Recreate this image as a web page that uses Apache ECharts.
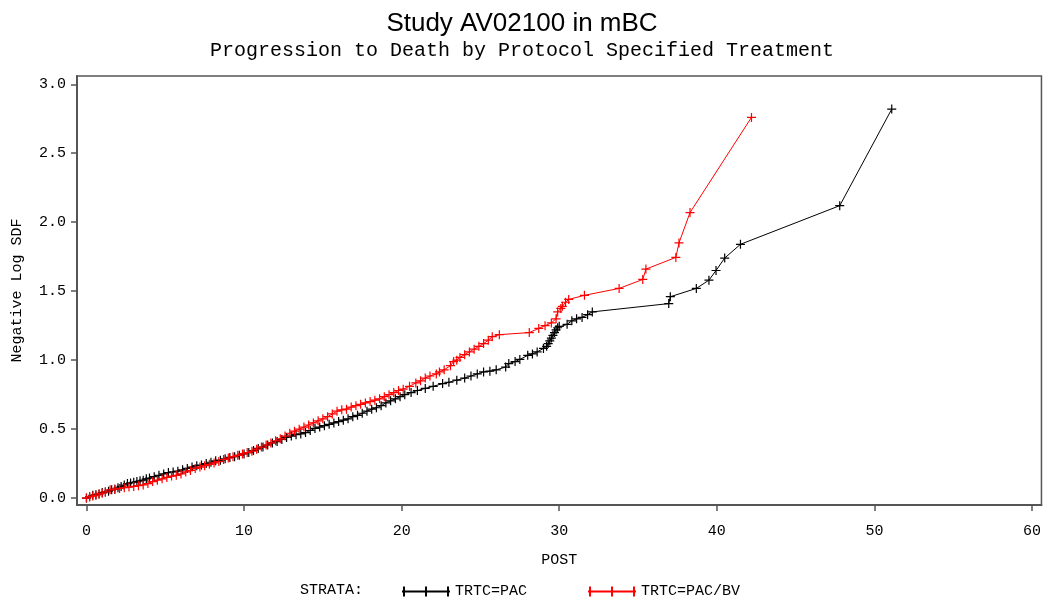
<!DOCTYPE html>
<html>
<head>
<meta charset="utf-8">
<script src="https://cdn.jsdelivr.net/npm/echarts@6.0.0/dist/echarts.min.js"></script>
<style>
    html, body { margin: 0; padding: 0; background: #fff; }
    #chart { width: 1044px; height: 600px; }
</style>
</head>
<body>
<div id="chart"></div>
<script>
// TRTC=PAC
var pacTime = [0, 0.2, 0.4, 0.6, 0.8, 1.0, 1.2, 1.4, 1.6, 1.8, 2.0, 2.2, 2.4, 2.6, 2.8, 3.0, 3.2, 3.4, 3.6, 3.8,
    4.0, 4.3, 4.6, 4.9, 5.2, 5.5, 5.8, 6.1, 6.4, 6.7, 7.0, 7.3, 7.6, 7.9, 8.2, 8.5, 8.8, 9.1, 9.4, 9.7,
    10.0, 10.3, 10.6, 10.9, 11.2, 11.5, 11.8, 12.1, 12.4, 12.7, 13.0, 13.3, 13.6, 13.9, 14.2, 14.5, 14.8,
    15.1, 15.4, 15.7, 16.0, 16.3, 16.6, 16.9, 17.2, 17.5, 17.8, 18.1, 18.4, 18.7, 19.0, 19.3, 19.6, 19.9,
    20.2, 20.6, 21.0, 21.5, 22.0, 22.6, 23.0, 23.5, 24.0, 24.4, 24.8, 25.2, 25.6, 26.0, 26.6, 26.8, 27.2,
    27.5, 28.0, 28.3, 28.6, 29.0, 29.2, 29.3, 29.4, 29.5, 29.6, 29.7, 29.8, 29.9, 30.0, 30.5, 30.8, 31.1,
    31.45, 31.8, 32.1, 36.95, 37.05, 38.7, 39.5, 39.95, 40.5, 41.5, 47.8, 51.1];
var pacLogSdf = [0, 0.01, 0.02, 0.025, 0.03, 0.04, 0.045, 0.05, 0.06, 0.065, 0.075, 0.085, 0.095, 0.105, 0.11, 0.115, 0.12, 0.125, 0.13, 0.14,
    0.145, 0.155, 0.165, 0.175, 0.185, 0.19, 0.195, 0.205, 0.215, 0.225, 0.235, 0.24, 0.25, 0.26, 0.27, 0.275, 0.285, 0.295, 0.30, 0.31,
    0.32, 0.33, 0.345, 0.36, 0.37, 0.385, 0.40, 0.41, 0.425, 0.44, 0.45, 0.46, 0.465, 0.475, 0.49, 0.505, 0.515,
    0.525, 0.535, 0.545, 0.555, 0.565, 0.575, 0.59, 0.60, 0.615, 0.63, 0.645, 0.655, 0.67, 0.69, 0.705, 0.72, 0.735,
    0.75, 0.765, 0.78, 0.795, 0.81, 0.83, 0.84, 0.855, 0.87, 0.885, 0.90, 0.915, 0.92, 0.93, 0.95, 0.975, 0.99,
    1.005, 1.035, 1.045, 1.06, 1.085, 1.10, 1.12, 1.14, 1.16, 1.18, 1.20, 1.22, 1.235, 1.245, 1.26, 1.285, 1.30,
    1.31, 1.33, 1.35, 1.41, 1.46, 1.52, 1.58, 1.65, 1.74, 1.84, 2.12, 2.82];

// TRTC=PAC/BV
var bvTime = [0, 0.2, 0.4, 0.6, 0.8, 1.0, 1.2, 1.5, 1.8, 2.1, 2.4, 2.7, 3.0, 3.3, 3.6, 3.9, 4.2, 4.5, 4.8, 5.1,
    5.4, 5.7, 6.0, 6.3, 6.6, 6.9, 7.2, 7.5, 7.8, 8.1, 8.4, 8.7, 9.0, 9.3, 9.6, 9.9, 10.2, 10.5, 10.8, 11.1,
    11.4, 11.7, 12.0, 12.3, 12.6, 12.9, 13.2, 13.5, 13.8, 14.1, 14.4, 14.7, 15.0, 15.3, 15.6, 15.9, 16.2,
    16.5, 16.8, 17.1, 17.4, 17.7, 18.0, 18.3, 18.6, 18.9, 19.2, 19.5, 19.8, 20.1, 20.5, 20.9, 21.2, 21.5,
    21.8, 22.2, 22.4, 22.7, 23.1, 23.3, 23.5, 23.7, 24.0, 24.3, 24.6, 24.9, 25.2, 25.5, 25.75, 26.2, 28.1,
    28.7, 29.1, 29.5, 29.8, 29.9, 30.1, 30.2, 30.4, 30.6, 31.6, 33.8, 35.3, 35.5, 37.4, 37.6, 38.3, 42.2];
var bvLogSdf = [0, 0.01, 0.015, 0.02, 0.03, 0.035, 0.045, 0.06, 0.065, 0.07, 0.075, 0.08, 0.085, 0.09, 0.095, 0.105, 0.12, 0.13, 0.14, 0.15,
    0.16, 0.165, 0.175, 0.19, 0.20, 0.215, 0.225, 0.235, 0.245, 0.255, 0.265, 0.28, 0.29, 0.30, 0.31, 0.32, 0.33, 0.34, 0.355, 0.37,
    0.385, 0.40, 0.415, 0.43, 0.45, 0.47, 0.485, 0.50, 0.515, 0.53, 0.545, 0.56, 0.575, 0.59, 0.61, 0.63, 0.64,
    0.645, 0.66, 0.67, 0.68, 0.69, 0.70, 0.71, 0.72, 0.735, 0.75, 0.765, 0.78, 0.79, 0.81, 0.835, 0.85, 0.87,
    0.885, 0.90, 0.915, 0.93, 0.96, 0.99, 1.00, 1.02, 1.04, 1.06, 1.08, 1.10, 1.12, 1.145, 1.17, 1.185, 1.20,
    1.23, 1.25, 1.27, 1.30, 1.35, 1.375, 1.39, 1.42, 1.44, 1.47, 1.52, 1.585, 1.66, 1.745, 1.85, 2.07, 2.76];

var xTicks = [0, 10, 20, 30, 40, 50, 60];
var yTicks = [0, 0.5, 1.0, 1.5, 2.0, 2.5, 3.0];

function zip(xs, ys) {
    var out = [];
    for (var i = 0; i < xs.length; i++) {
        out.push([xs[i], ys[i]]);
    }
    return out;
}

var plus = 'path://M0,5L10,5M5,0L5,10';
var legendIcon = 'path://M0,5L48,5M2,0L2,10M24,0L24,10M46,0L46,10';
var mono = 'Liberation Mono';
var axisColor = '#555';

var myChart = echarts.init(document.getElementById('chart'));
var option = {
    animation: false,
    backgroundColor: '#fff',
    title: {
        text: 'Study AV02100 in mBC',
        subtext: 'Progression to Death by Protocol Specified Treatment',
        left: 'center',
        top: 6,
        itemGap: 4,
        textStyle: { fontFamily: 'Liberation Sans', fontSize: 26, fontWeight: 'normal', color: '#000' },
        subtextStyle: { fontFamily: mono, fontSize: 20, color: '#000' }
    },
    graphic: [{
        type: 'text',
        left: 300,
        top: 583,
        style: { text: 'STRATA:', font: '15px "Liberation Mono"', fill: '#000' }
    }],
    legend: {
        left: 396,
        top: 579,
        itemWidth: 48,
        itemHeight: 10,
        itemGap: 60,
        icon: legendIcon,
        textStyle: { fontFamily: mono, fontSize: 15, color: '#000' },
        data: ['TRTC=PAC', 'TRTC=PAC/BV']
    },
    grid: {
        left: 77,
        right: 1,
        top: 76,
        bottom: 95,
        show: true,
        borderColor: axisColor,
        borderWidth: 1.5
    },
    xAxis: {
        type: 'value',
        min: -0.6,
        max: 60.6,
        name: 'POST',
        nameLocation: 'middle',
        nameGap: 48,
        nameTextStyle: { fontFamily: mono, fontSize: 15, color: '#000' },
        splitLine: { show: false },
        axisLine: { show: true, onZero: false, lineStyle: { color: axisColor, width: 2 } },
        axisTick: { show: true, length: 6, customValues: xTicks, lineStyle: { color: axisColor, width: 1.5 } },
        axisLabel: { customValues: xTicks, margin: 19, fontFamily: mono, fontSize: 15, color: '#000' }
    },
    yAxis: {
        type: 'value',
        min: -0.05,
        max: 3.06,
        name: 'Negative Log SDF',
        nameLocation: 'middle',
        nameGap: 52,
        nameTextStyle: { fontFamily: mono, fontSize: 15, color: '#000' },
        splitLine: { show: false },
        axisLine: { show: true, onZero: false, lineStyle: { color: axisColor, width: 2 } },
        axisTick: { show: true, length: 6, customValues: yTicks, lineStyle: { color: axisColor, width: 1.5 } },
        axisLabel: {
            customValues: yTicks,
            margin: 11,
            fontFamily: mono,
            fontSize: 15,
            color: '#000',
            formatter: function (v) { return v.toFixed(1); }
        }
    },
    series: [{
        name: 'TRTC=PAC',
        type: 'line',
        data: zip(pacTime, pacLogSdf),
        symbol: plus,
        symbolSize: 9,
        showAllSymbol: true,
        lineStyle: { color: '#000', width: 1 },
        itemStyle: { color: '#000', borderColor: '#000', borderWidth: 1.2 }
    }, {
        name: 'TRTC=PAC/BV',
        type: 'line',
        data: zip(bvTime, bvLogSdf),
        symbol: plus,
        symbolSize: 9,
        showAllSymbol: true,
        lineStyle: { color: '#ff0000', width: 1 },
        itemStyle: { color: '#ff0000', borderColor: '#ff0000', borderWidth: 1.2 }
    }]
};
myChart.setOption(option);
</script>
</body>
</html>
